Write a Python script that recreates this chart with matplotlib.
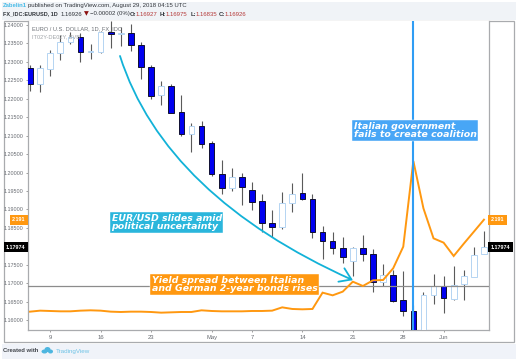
#!/usr/bin/env python3
"""EUR/USD daily candles with the Italian-German 2-year yield spread."""

import matplotlib

matplotlib.use("Agg")
import matplotlib.pyplot as plt
from matplotlib.patches import Ellipse, FancyArrowPatch, Rectangle
from matplotlib.path import Path

W, H = 516, 359

opens = [1.2283, 1.2240, 1.2280, 1.2324, 1.2354, 1.2367, 1.2326, 1.2328, 1.2381, 1.2375,
         1.2379, 1.2347, 1.2287, 1.2209, 1.2235, 1.2163, 1.2105, 1.2125, 1.2079, 1.1995,
         1.1957, 1.1987, 1.1953, 1.1923, 1.1863, 1.1852, 1.1917, 1.1945, 1.1927, 1.1839,
         1.1813, 1.1795, 1.1761, 1.1795, 1.1779, 1.1704, 1.1722, 1.1654, 1.1625, 1.1560,
         1.1668, 1.1693, 1.1656, 1.1697, 1.1717, 1.1778]
highs = [1.2292, 1.2292, 1.2331, 1.2373, 1.2382, 1.2377, 1.2348, 1.2385, 1.2412, 1.2395,
         1.2403, 1.2355, 1.2291, 1.2247, 1.2239, 1.2210, 1.2133, 1.2141, 1.2086, 1.2034,
         1.2011, 1.1999, 1.1975, 1.1942, 1.1898, 1.1948, 1.1971, 1.1999, 1.1942, 1.1855,
         1.1839, 1.1824, 1.1797, 1.1831, 1.1792, 1.1752, 1.1736, 1.1733, 1.1642, 1.1677,
         1.1725, 1.1719, 1.1746, 1.1736, 1.1797, 1.1841]
lows = [1.2221, 1.2217, 1.2263, 1.2304, 1.2348, 1.2301, 1.2309, 1.2323, 1.2337, 1.2344,
        1.2330, 1.2253, 1.2200, 1.2183, 1.2162, 1.2098, 1.2056, 1.2066, 1.1990, 1.1941,
        1.1951, 1.1912, 1.1898, 1.1840, 1.1826, 1.1846, 1.1893, 1.1925, 1.1823, 1.1766,
        1.1779, 1.1754, 1.1718, 1.1759, 1.1677, 1.1693, 1.1650, 1.1611, 1.1560, 1.1560,
        1.1643, 1.1620, 1.1654, 1.1654, 1.1717, 1.1778]
closes = [1.2241, 1.2283, 1.2323, 1.2355, 1.2368, 1.2328, 1.2329, 1.2382, 1.2375, 1.2379,
          1.2346, 1.2287, 1.2208, 1.2234, 1.2162, 1.2105, 1.2126, 1.2078, 1.1995, 1.1957,
          1.1989, 1.1960, 1.1921, 1.1862, 1.1852, 1.1917, 1.1943, 1.1927, 1.1838, 1.1813,
          1.1795, 1.1771, 1.1796, 1.1779, 1.1704, 1.1722, 1.1652, 1.1624, 1.1560, 1.1667,
          1.1693, 1.1661, 1.1696, 1.1718, 1.1777, 1.1797]
spread = [0.270, 0.291, 0.284, 0.277, 0.277, 0.291, 0.298, 0.291, 0.270, 0.263,
          0.270, 0.270, 0.263, 0.249, 0.256, 0.263, 0.263, 0.298, 0.284, 0.277,
          0.277, 0.277, 0.284, 0.284, 0.291, 0.360, 0.326, 0.319, 0.326, 0.667,
          0.611, 0.688, 0.896, 0.806, 0.924, 0.931, 1.175, 1.627, 3.416, 2.428,
          1.801, 1.711, 1.432, 1.690, 1.940, 2.191]

date_ticks = [2, 7, 12, 18, 22, 27, 32, 37, 41]
date_labels = ["9", "16", "23", "May", "7", "14", "21", "28", "Jun"]
price_ticks = [1.16, 1.165, 1.17, 1.175, 1.18, 1.185, 1.19, 1.195, 1.20, 1.205,
               1.21, 1.215, 1.22, 1.225, 1.23, 1.235, 1.24]
# 1.18000 sits under the last-price tag in the reference, so it gets no label
price_labels = ["" if v == 1.18 else f"{v:.5f}" for v in price_ticks]
event_bar = 38
ref_price = 1.16926
last_price = 1.17974
last_spread = 2.191
arrow_bars = [8.92, 11.89, 19.82, 32.01]
arrow_prices = [1.2316, 1.2061, 1.1858, 1.1708]

GRAY_TEXT = "#666a70"
ORANGE = "#ff9810"
CYAN = "#12b2d8"
BLUE = "#2f9df4"


def fx(px):
    return px / W


def fy(py):
    return 1 - py / H


def band(fig, x0, y0, x1, y1, fc, ec="none", lw=0.0):
    fig.patches.append(Rectangle((fx(x0), fy(y1)), (x1 - x0) / W, (y1 - y0) / H,
                                 transform=fig.transFigure, fc=fc, ec=ec, lw=lw, zorder=-5))


def top_text(fig, px, py, s, **kw):
    kw.setdefault("fontsize", 4.3)
    kw.setdefault("color", "#30343a")
    kw.setdefault("family", "Liberation Sans")
    fig.text(fx(px), fy(py), s, va="center", ha=kw.pop("ha", "left"), **kw)


def callout(fig, px, py, s, fc):
    fig.text(fx(px), fy(py), s, color="white", fontsize=6.75, fontweight="bold",
             fontstyle="italic", family="DejaVu Sans", va="center", ha="left",
             linespacing=0.9, zorder=6,
             bbox=dict(boxstyle="square,pad=0.15", fc=fc, ec="#ffffff", lw=0.3))


def draw_candles(ax):
    for i, (o, h, l, c) in enumerate(zip(opens, highs, lows, closes)):
        up = c >= o
        ax.vlines(i, l, h, color="#5a5a5a", lw=0.8, zorder=2)
        ax.bar(i, abs(c - o), bottom=min(o, c), width=0.56,
               color="white" if up else "#0000f0",
               edgecolor="#b4d4f2" if up else "#101030", linewidth=0.7, zorder=3)


def draw_chrome(fig):
    band(fig, 2, 2, W, 19.5, "#f0f3f7")
    band(fig, 3.5, 20.5, 513.5, 342, "white", ec="#a9abae", lw=0.9)
    band(fig, 2, 344, W, H, "#f0f3f9")

    top_text(fig, 3, 5.8, "Zabelin1", color="#45bbe8", fontweight="bold")
    top_text(fig, 28, 5.8, "published on TradingView.com, August 29, 2018 04:15 UTC")
    top_text(fig, 3, 14, "FX_IDC:EURUSD, 1D", fontweight="bold", fontsize=3.95)
    top_text(fig, 61, 14, "1.16926")
    top_text(fig, 84, 14, "\u25bc", color="#8b1010", fontsize=4.5, family="DejaVu Sans")
    top_text(fig, 90, 14, "\u22120.00002 (0%)")
    for px, s in [(130, "O:"), (160, "H:"), (190.5, "L:"), (219, "C:")]:
        top_text(fig, px, 14, s, fontweight="bold")
    for px, s in [(136, "1.16927"), (166, "1.16975"), (196, "1.16835"), (225, "1.16926")]:
        top_text(fig, px, 14, s, color="#b53a3a")

    top_text(fig, 3, 351, "Created with", fontweight="bold", color="#40444a", fontsize=4.2)
    top_text(fig, 56, 351, "TradingView", color="#6fc3e6", fontsize=4.5)
    for cx, cy, w, h in [(44.5, 351.5, 6, 4), (47.5, 349.5, 6, 5), (50.5, 351.5, 5, 4)]:
        fig.patches.append(Ellipse((fx(cx), fy(cy)), w / W, h / H, transform=fig.transFigure,
                                   fc="#4db6e0", ec="none", zorder=3))


def main():
    fig = plt.figure(figsize=(W / 100, H / 100), dpi=100, facecolor="white")
    draw_chrome(fig)

    ax = fig.add_axes([fx(27.5), fy(330), (489 - 27.5) / W, (330 - 20.5) / H])
    ax.set_xlim(-0.25, 45.5)
    ax.set_ylim(1.15729, 1.24122)
    draw_candles(ax)
    ax.axhline(ref_price, color="#8c8c8c", lw=0.9, zorder=4)

    ax.set_yticks(price_ticks, price_labels)
    ax.set_xticks(date_ticks, date_labels)
    ax.tick_params(axis="y", left=True, right=True, labelleft=True, labelright=True,
                   length=1.5, width=0.5, color="#777777", labelcolor=GRAY_TEXT,
                   labelsize=3.9, pad=1.2)
    ax.tick_params(axis="x", length=1.5, width=0.5, color="#777777", labelcolor=GRAY_TEXT,
                   labelsize=4.2, pad=2.2)
    for label in ax.get_xticklabels() + ax.get_yticklabels():
        label.set_family("Liberation Sans")
    ax.spines["top"].set_visible(False)
    for side in ("left", "right", "bottom"):
        ax.spines[side].set_color("#a9abae")
        ax.spines[side].set_linewidth(0.9)

    ax2 = ax.twinx()
    ax2.set_ylim(-0.113, 6.35)
    ax2.set_yticks([])
    for spine in ax2.spines.values():
        spine.set_visible(False)
    ax2.plot(range(len(spread)), spread, color=ORANGE, lw=1.4, solid_joinstyle="miter", zorder=3)
    ax2.axvline(event_bar, color=BLUE, lw=1.5, zorder=4)

    curve = Path(list(zip(arrow_bars, arrow_prices)),
                 [Path.MOVETO, Path.CURVE4, Path.CURVE4, Path.CURVE4])
    ax2.add_patch(FancyArrowPatch(path=curve, arrowstyle="->,head_length=3.6,head_width=2.4",
                                  mutation_scale=2.2, color=CYAN, lw=1.3,
                                  transform=ax.transData, zorder=5))

    trans = ax.get_yaxis_transform()
    for x, ha in [(-0.004, "right"), (1.004, "left")]:
        ax2.text(x, last_price, f"{last_price:.5f}", transform=trans, ha=ha, va="center",
                 color="white", fontsize=3.9, fontweight="bold", family="Liberation Sans",
                 clip_on=False, zorder=7, bbox=dict(boxstyle="square,pad=0.45", fc="black", ec="none"))
        ax2.text(x, 1.1872, f"{last_spread:.3f}", transform=trans, ha=ha, va="center",
                 color="white", fontsize=3.9, fontweight="bold", family="Liberation Sans",
                 clip_on=False, zorder=7, bbox=dict(boxstyle="square,pad=0.45", fc=ORANGE, ec="none"))

    top_text(fig, 32, 28.7, "EURO / U.S. DOLLAR, 1D, FX_IDC", color="#6a6e74", fontsize=4.1)
    top_text(fig, 32, 37, "IT02Y-DE02Y, BVB", color="#a0a4a8", fontsize=4.1)

    callout(fig, 111.5, 222.5, "EUR/USD slides amid\npolitical uncertainty", "#2bb6dc")
    callout(fig, 151.5, 284.5, "Yield spread between Italian\nand German 2-year bonds rises", ORANGE)
    callout(fig, 353.5, 130.5, "Italian government\nfails to create coalition", "#48a6f6")

    fig.savefig("out.png", dpi=100, facecolor="white")


if __name__ == "__main__":
    main()
